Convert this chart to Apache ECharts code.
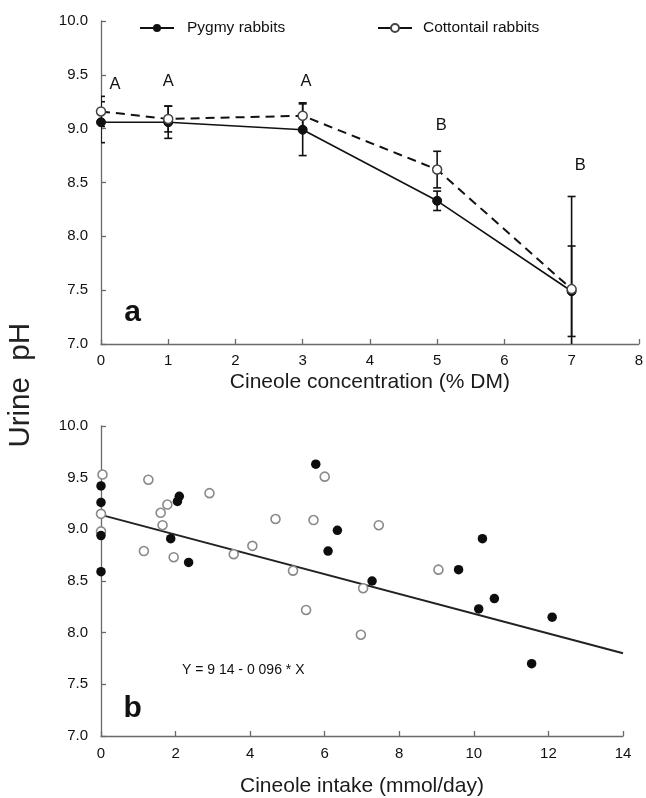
<!DOCTYPE html>
<html><head><meta charset="utf-8">
<script src="https://cdn.jsdelivr.net/npm/echarts@6/dist/echarts.min.js"></script>
<style>html,body{margin:0;padding:0;background:#fff}#c{width:646px;height:798px}</style>
</head><body><div id="c"></div>
<script>
// ---- Panel a: urine pH vs cineole concentration ----
const concentrations = [0, 1, 3, 5, 7];
const pygmyMean = [9.06, 9.06, 8.99, 8.33, 7.49];
const pygmyErr = [0.19, 0.15, 0.24, 0.09, 0.42];
const cottonMean = [9.16, 9.09, 9.12, 8.62, 7.51];
const cottonErr = [0.14, 0.12, 0.12, 0.17, 0.86];
const letterX = [0.21, 1.0, 3.05, 5.06, 7.13];
const letterY = [9.41, 9.44, 9.44, 9.03, 8.66];
const letterText = ['A', 'A', 'A', 'B', 'B'];

// ---- Panel b: urine pH vs cineole intake ----
const pygmyIntake = [[0,9.42],[0,9.26],[0,8.94],[0,8.59],[2.1,9.32],[2.05,9.27],[1.87,8.91],[2.35,8.68],
  [5.76,9.63],[6.34,8.99],[6.09,8.79],[7.27,8.50],[9.59,8.61],[10.23,8.91],[10.55,8.33],[10.13,8.23],
  [12.1,8.15],[11.55,7.70]];
const cottonIntake = [[0.04,9.53],[0,9.15],[0,8.98],[1.27,9.48],[1.15,8.79],[1.6,9.16],[1.78,9.24],
  [1.65,9.04],[1.95,8.73],[2.91,9.35],[3.56,8.76],[4.06,8.84],[4.68,9.10],[5.15,8.60],[5.5,8.22],
  [5.7,9.09],[6.0,9.51],[7.45,9.04],[9.05,8.61],[7.03,8.43],[6.97,7.98]];
const fitLine = [[0, 9.14], [14, 7.80]];
const equationText = 'Y = 9 14 - 0 096 * X';

const FONT = 'Liberation Sans, Arial, sans-serif';
const axisCol = '#6a6a6a';

function pairs(xs, ys) { return xs.map((x, i) => [x, ys[i]]); }
function errData(xs, m, e) { return xs.map((x, i) => [x, m[i] - e[i], m[i] + e[i]]); }

function errRender(params, api) {
  const x = api.value(0);
  const lo = api.coord([x, api.value(1)]);
  const hi = api.coord([x, api.value(2)]);
  const w = 4;
  const style = { stroke: '#111', lineWidth: 1.6 };
  return { type: 'group', children: [
    { type: 'line', shape: { x1: lo[0], y1: lo[1], x2: hi[0], y2: hi[1] }, style },
    { type: 'line', shape: { x1: lo[0]-w, y1: lo[1], x2: lo[0]+w, y2: lo[1] }, style },
    { type: 'line', shape: { x1: hi[0]-w, y1: hi[1], x2: hi[0]+w, y2: hi[1] }, style }
  ]};
}

function yAx(gi) {
  return {
    gridIndex: gi, type: 'value', min: 7, max: 10, interval: 0.5,
    axisLine: { show: true, lineStyle: { color: axisCol, width: 1.3 } },
    axisTick: { show: true, inside: true, length: 5, lineStyle: { color: axisCol, width: 1.3 } },
    axisLabel: { color: '#111', fontSize: 15, fontFamily: FONT, margin: 13, formatter: v => v.toFixed(1) },
    splitLine: { show: false }
  };
}
function xAx(gi, max, interval, name, gap, margin) {
  return {
    gridIndex: gi, type: 'value', min: 0, max: max, interval: interval,
    name: name, nameLocation: 'middle', nameGap: gap,
    nameTextStyle: { color: '#1a1a1a', fontSize: 21, fontFamily: FONT },
    axisLine: { show: true, onZero: false, lineStyle: { color: axisCol, width: 1.3 } },
    axisTick: { show: true, inside: true, length: 5, lineStyle: { color: axisCol, width: 1.3 } },
    axisLabel: { color: '#111', fontSize: 15, fontFamily: FONT, margin: margin },
    splitLine: { show: false }
  };
}
function textMark(gi, x, y, txt, size, bold, pos) {
  return { type: 'scatter', xAxisIndex: gi, yAxisIndex: gi, symbolSize: 0, silent: true, clip: false,
    itemStyle: { opacity: 1 },
    data: [{ value: [x, y], name: txt }],
    label: { show: true, position: pos || 'inside', distance: 0, formatter: p => p.name, color: '#111',
      opacity: 1, fontSize: size, fontWeight: bold ? 'bold' : 'normal', fontFamily: FONT } };
}

const chart = echarts.init(document.getElementById('c'), null, { renderer: 'canvas' });
const series = [
  { type: 'custom', xAxisIndex: 0, yAxisIndex: 0, renderItem: errRender,
    data: errData(concentrations, pygmyMean, pygmyErr), clip: true, z: 1, silent: true },
  { type: 'custom', xAxisIndex: 0, yAxisIndex: 0, renderItem: errRender,
    data: errData(concentrations, cottonMean, cottonErr), clip: true, z: 1, silent: true },
  { name: 'Pygmy rabbits', type: 'line', xAxisIndex: 0, yAxisIndex: 0, data: pairs(concentrations, pygmyMean),
    symbol: 'circle', symbolSize: 9, clip: false, z: 3,
    lineStyle: { color: '#111', width: 1.6 }, itemStyle: { color: '#111', borderColor: '#111' } },
  { name: 'Cottontail rabbits', type: 'line', xAxisIndex: 0, yAxisIndex: 0, data: pairs(concentrations, cottonMean),
    symbol: 'circle', symbolSize: 9, clip: false, z: 4,
    lineStyle: { color: '#111', width: 2, type: [9, 6] },
    itemStyle: { color: '#fff', borderColor: '#444', borderWidth: 1.5 } },
  { type: 'line', xAxisIndex: 1, yAxisIndex: 1, data: fitLine, symbol: 'none', z: 2,
    lineStyle: { color: '#222', width: 2 } },
  { type: 'scatter', xAxisIndex: 1, yAxisIndex: 1, data: cottonIntake, symbol: 'circle', symbolSize: 9, clip: false, z: 3,
    itemStyle: { color: '#fff', borderColor: '#8a8a8a', borderWidth: 1.6, opacity: 1 } },
  { type: 'scatter', xAxisIndex: 1, yAxisIndex: 1, data: pygmyIntake, symbol: 'circle', symbolSize: 9.5, clip: false, z: 4,
    itemStyle: { color: '#0d0d0d', opacity: 1 } }
];
letterX.forEach((x, i) => series.push(textMark(0, x, letterY[i], letterText[i], 16.5, false)));
series.push(textMark(0, 0.47, 7.29, 'a', 30, true));
series.push(textMark(1, 2.17, 7.64, equationText, 14, false, 'right'));
series.push(textMark(1, 0.85, 7.26, 'b', 30, true));

chart.setOption({
  backgroundColor: '#fff',
  animation: false,
  grid: [
    { left: 101, right: 1, top: 21, height: 323 },
    { left: 101, right: 23, top: 426, height: 311 }
  ],
  xAxis: [
    xAx(0, 8, 1, 'Cineole concentration (% DM)', 28, 9),
    xAx(1, 14, 2, 'Cineole intake (mmol/day)', 40, 10)
  ],
  yAxis: [yAx(0), yAx(1)],
  legend: [
    { left: 139, top: 20, padding: 0, itemWidth: 34, itemHeight: 10, data: ['Pygmy rabbits'],
      textStyle: { color: '#111', fontSize: 15.5, fontFamily: FONT, padding: [0, 0, 0, 8] } },
    { left: 377, top: 20, padding: 0, itemWidth: 34, itemHeight: 10, data: ['Cottontail rabbits'],
      lineStyle: { type: 'solid' },
      textStyle: { color: '#111', fontSize: 15.5, fontFamily: FONT, padding: [0, 0, 0, 6] } }
  ],
  graphic: [
    { type: 'text', left: 6, top: 323, rotation: Math.PI / 2,
      style: { text: 'Urine  pH', fontSize: 29.5, fontFamily: FONT, fill: '#222' } }
  ],
  series: series
});
</script></body></html>
